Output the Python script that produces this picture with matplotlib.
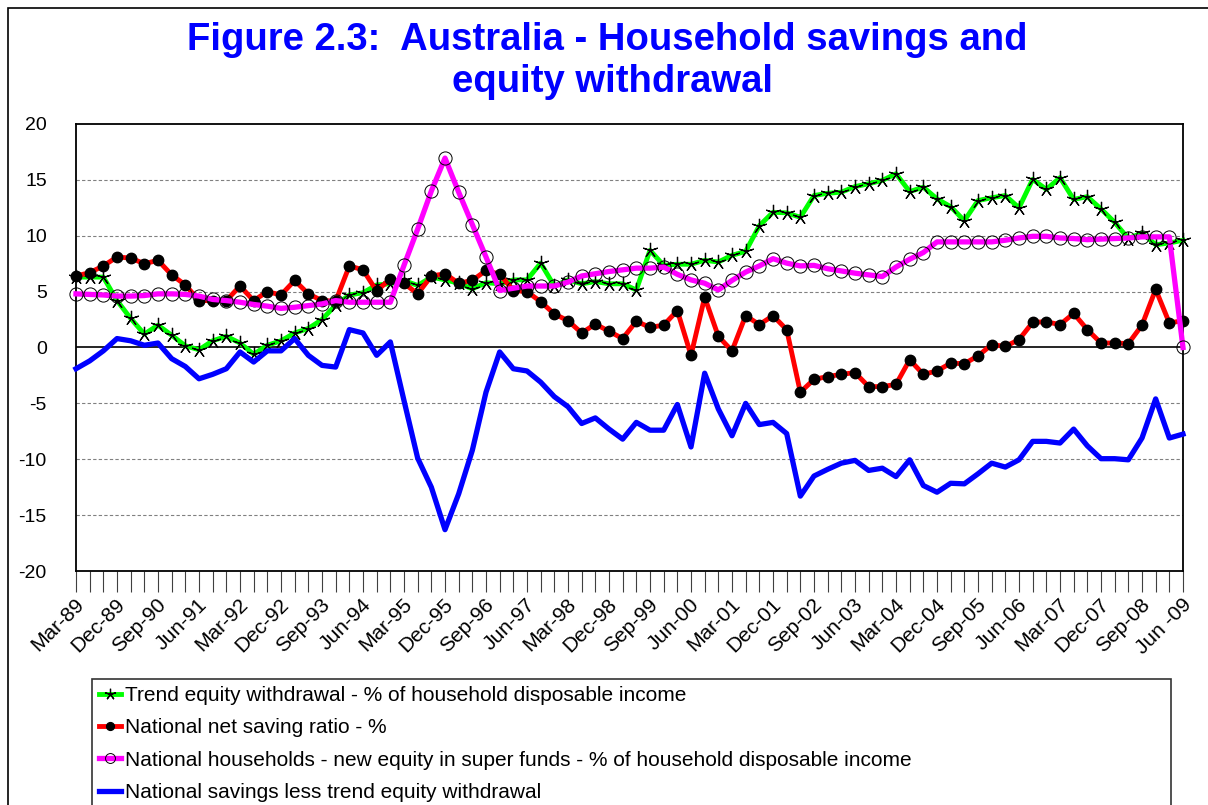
import numpy as np
import matplotlib.pyplot as plt
import matplotlib.transforms as mtransforms
from matplotlib.patches import Rectangle

plt.rcParams['font.family'] = ['Liberation Sans', 'DejaVu Sans']
plt.rcParams['axes.unicode_minus'] = False

# ---------------------- data (quarterly, Mar-89 .. Jun-09) ----------------------
tick_labels = ['Mar-89', 'Dec-89', 'Sep-90', 'Jun-91', 'Mar-92', 'Dec-92', 'Sep-93',
               'Jun-94', 'Mar-95', 'Dec-95', 'Sep-96', 'Jun-97', 'Mar-98', 'Dec-98',
               'Sep-99', 'Jun-00', 'Mar-01', 'Dec-01', 'Sep-02', 'Jun-03', 'Mar-04',
               'Dec-04', 'Sep-05', 'Jun-06', 'Mar-07', 'Dec-07', 'Sep-08', 'Jun -09']

trend_equity = [6.3, 6.3, 6.3, 4.2, 2.6, 1.2, 2.0, 1.1, 0.15, -0.2, 0.6, 1.0, 0.4, -0.6,
                0.2, 0.6, 1.3, 1.7, 2.5, 3.8, 4.7, 4.9, 5.6, 5.7, 6.0, 5.55, 6.3, 6.05,
                5.75, 5.25, 5.8, 5.7, 6.05, 6.05, 7.55, 5.5, 6.05, 5.7, 5.9, 5.7, 5.7,
                5.15, 8.7, 7.35, 7.45, 7.45, 7.8, 7.65, 8.25, 8.6, 10.9, 12.1, 12.05, 11.65, 13.6,
                13.8, 13.9, 14.4, 14.65, 14.95, 15.55, 13.95, 14.35, 13.3, 12.6, 11.35, 13.15, 13.4, 13.6,
                12.5, 15.05, 14.15, 15.2, 13.25, 13.5, 12.4, 11.2, 9.75, 10.25, 9.2, 9.35, 9.6]

net_saving = [6.4, 6.7, 7.3, 8.1, 8.0, 7.5, 7.8, 6.5, 5.6, 4.2, 4.2, 4.2, 5.5, 4.2,
              5.0, 4.7, 6.0, 4.8, 4.2, 4.15, 7.3, 6.95, 5.05, 6.15, 5.75, 4.8, 6.4, 6.6,
              5.75, 6.0, 6.9, 6.55, 5.1, 5.0, 4.1, 3.0, 2.4, 1.3, 2.1, 1.45, 0.8,
              2.35, 1.8, 2.0, 3.3, -0.7, 4.5, 1.0, -0.3, 2.85, 2.05, 2.85, 1.6, -4.0, -2.85,
              -2.6, -2.4, -2.25, -3.5, -3.5, -3.3, -1.1, -2.4, -2.1, -1.4, -1.45, -0.75, 0.25, 0.1,
              0.7, 2.25, 2.3, 2.05, 3.05, 1.6, 0.4, 0.4, 0.35, 2.0, 5.2, 2.2, 2.4]

super_equity = [4.8, 4.75, 4.7, 4.6, 4.6, 4.65, 4.8, 4.8, 4.75, 4.6, 4.3, 4.2, 4.05, 3.85,
                3.7, 3.5, 3.6, 3.75, 3.9, 4.2, 4.05, 4.05, 4.05, 4.05, 7.35, 10.6, 14.0, 16.95,
                13.9, 11.0, 8.1, 5.1, 5.3, 5.5, 5.5, 5.5, 5.85, 6.4, 6.6, 6.8, 6.95,
                7.1, 7.1, 7.2, 6.55, 6.05, 5.75, 5.15, 6.0, 6.75, 7.3, 7.95, 7.55, 7.3, 7.35,
                7.05, 6.85, 6.65, 6.5, 6.35, 7.2, 7.9, 8.5, 9.45, 9.45, 9.45, 9.45, 9.45, 9.6,
                9.8, 9.95, 9.95, 9.8, 9.75, 9.65, 9.7, 9.75, 9.8, 9.9, 9.9, 9.9, 0.0]

savings_less_trend = [-1.9, -1.2, -0.3, 0.8, 0.6, 0.2, 0.4, -1.0, -1.7, -2.8, -2.4, -1.9, -0.4, -1.3,
                      -0.3, -0.3, 0.8, -0.7, -1.6, -1.75, 1.6, 1.3, -0.7, 0.5, -4.75, -9.9, -12.5, -16.3,
                      -13.1, -9.2, -4.0, -0.4, -1.9, -2.1, -3.1, -4.4, -5.3, -6.8, -6.3, -7.3, -8.2,
                      -6.7, -7.4, -7.4, -5.1, -8.9, -2.3, -5.5, -7.9, -5.0, -6.9, -6.7, -7.7, -13.3, -11.5,
                      -10.9, -10.35, -10.1, -11.0, -10.8, -11.55, -10.05, -12.35, -12.95, -12.15, -12.2, -11.3, -10.35, -10.7,
                      -10.05, -8.4, -8.4, -8.55, -7.3, -8.8, -9.95, -9.95, -10.05, -8.1, -4.6, -8.1, -7.75]

series_names = ['Trend equity withdrawal - % of household disposable income',
                'National net saving ratio - %',
                'National households - new equity in super funds - % of household disposable income',
                'National savings less trend equity withdrawal']

x = np.arange(len(trend_equity))
W, H = 1208, 805

fig = plt.figure(figsize=(W / 100, H / 100), dpi=100)
ax = fig.add_axes([76 / W, 1 - 571 / H, (1183 - 76) / W, (571 - 124) / H])

# outer chart frame
fig.add_artist(Rectangle((8 / W, -0.1), 1.2, 1.1 - 8 / H, transform=fig.transFigure,
                         fill=False, edgecolor='black', lw=1.2))

# gridlines + zero line
for yv in (15, 10, 5, -5, -10, -15):
    ax.axhline(yv, color='#808080', lw=0.8, ls=(0, (3, 2)), zorder=0)
ax.axhline(0, color='black', lw=1.2, zorder=1)

ax.plot(x, trend_equity, color='#00FF00', lw=3.5, marker=(5, 2, 0), ms=11,
        mec='black', mew=0.9, label=series_names[0], clip_on=False, zorder=3)
ax.plot(x, net_saving, color='#FF0000', lw=3.5, marker='o', ms=7.5,
        mfc='black', mec='black', label=series_names[1], clip_on=False, zorder=4)
ax.plot(x, super_equity, color='#FF00FF', lw=3.8, marker='o', ms=9.5,
        mfc='none', mec='black', mew=0.7, label=series_names[2], clip_on=False, zorder=5)
ax.plot(x, savings_less_trend, color='#0000FF', lw=3.8,
        label=series_names[3], clip_on=False, zorder=6)

ax.set_xlim(0, len(x) - 1)
ax.set_ylim(-20, 20)
ax.set_yticks(range(-20, 25, 5))
ax.tick_params(axis='y', length=0, pad=21, labelsize=14)

ax.set_xticks(x)
ax.set_xticklabels([tick_labels[i // 3] if i % 3 == 0 else '' for i in x],
                   rotation=45, ha='right', va='top', fontsize=15)
ax.tick_params(axis='x', length=15, width=0.8, color='#404040', pad=2)
offset = mtransforms.ScaledTranslation(12 / 100, 0, fig.dpi_scale_trans)
for lab in ax.get_xticklabels():
    lab.set_transform(lab.get_transform() + offset)

for sp in ax.spines.values():
    sp.set_linewidth(1.3)

title_kw = dict(ha='center', va='baseline', fontsize=27.5, fontweight='bold', color='#0000FF')
fig.text(0.503, 1 - 50 / H, 'Figure 2.3:  Australia - Household savings and', **title_kw)
fig.text(0.507, 1 - 92 / H, 'equity withdrawal', **title_kw)

leg = fig.legend(loc='upper left', bbox_to_anchor=(92 / W, 0, (1171 - 92) / W, 1 - 679 / H),
                 mode='expand', ncol=1, fontsize=15, numpoints=1, handlelength=1.05,
                 handletextpad=0.2, borderpad=0.33, labelspacing=0.64, borderaxespad=0,
                 fancybox=False, markerscale=0.75)
leg.get_frame().set_edgecolor('black')
leg.get_frame().set_linewidth(1.2)

fig.savefig('out.png', dpi=100)
